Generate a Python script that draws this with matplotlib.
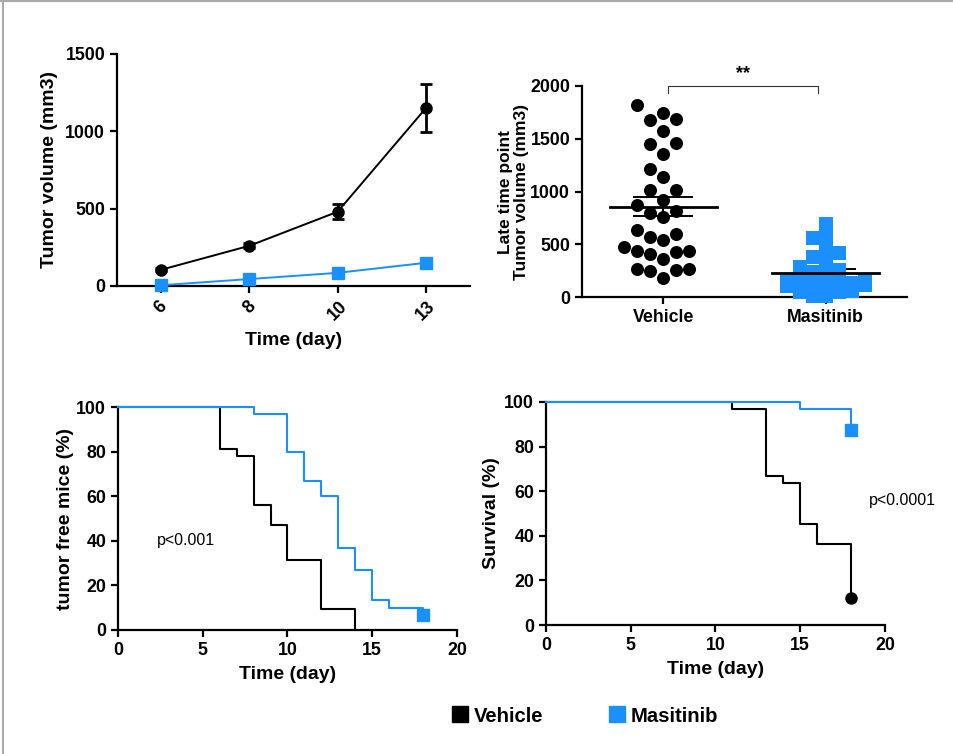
"""Tumor growth and survival panels: vehicle vs masitinib."""

import matplotlib
matplotlib.use("Agg")
import matplotlib.pyplot as plt
import numpy as np
from matplotlib.lines import Line2D

plt.rcParams["font.family"] = ["Liberation Sans", "DejaVu Sans"]
plt.rcParams["font.weight"] = "bold"
plt.rcParams["axes.labelweight"] = "bold"

BLACK = "#000000"
BLUE = "#1a90ff"

# --- data: tumor growth (mean +/- SEM) ---
days = ["6", "8", "10", "13"]
vehicle_mean = [105, 260, 480, 1150]
vehicle_sem = [10, 15, 48, 155]
masitinib_mean = [5, 45, 85, 150]
masitinib_sem = [3, 6, 10, 12]

# --- data: late time point tumor volume per mouse ---
groups = ["Vehicle", "Masitinib"]
vehicle_late = [1820, 1744, 1678, 1690, 1577, 1457, 1450, 1355, 1210, 1134,
                1014, 1014, 919, 872, 800, 818, 755, 597, 572, 632, 537, 477,
                433, 411, 427, 436, 357, 269, 256, 250, 265, 177]
masitinib_late = [690, 620, 555, 515, 445, 415, 375, 350, 285, 255, 240, 230,
                  150, 140, 170, 160, 150, 140, 130, 120, 115, 110, 100, 90,
                  80, 60, 45, 45, 10, 10]

# --- data: tumor free mice (Kaplan-Meier) ---
tf_vehicle_t = [0, 6, 7, 8, 9, 10, 12, 14]
tf_vehicle_pct = [100, 81.25, 78.1, 56.25, 46.9, 31.25, 9.4, 0]
tf_masitinib_t = [0, 8, 10, 11, 12, 13, 14, 15, 16, 18]
tf_masitinib_pct = [100, 96.7, 80, 66.7, 60, 36.7, 26.7, 13.3, 10, 6.7]

# --- data: survival (Kaplan-Meier) ---
sv_vehicle_t = [0, 11, 13, 14, 15, 16, 18]
sv_vehicle_pct = [100, 97.0, 66.7, 63.6, 45.5, 36.4, 12.1]
sv_masitinib_t = [0, 15, 18]
sv_masitinib_pct = [100, 96.9, 87.5]

W, H = 954, 754
fig = plt.figure(figsize=(W / 100, H / 100), dpi=100)

TICK_FS = 12.8
LABEL_FS = 14


def px_axes(x0, y0, x1, y1):
    # axes from pixel box (left, top, right, bottom)
    return fig.add_axes([x0 / W, 1 - y1 / H, (x1 - x0) / W, (y1 - y0) / H])


def style(ax):
    for s in ["top", "right"]:
        ax.spines[s].set_visible(False)
    for s in ["left", "bottom"]:
        ax.spines[s].set_linewidth(1.6)
    ax.tick_params(width=1.6, length=5, labelsize=TICK_FS, direction="out")


def swarm(values, min_gap, max_slot=3):
    # slot swarm: take the first slot (centre outwards) with room,
    # otherwise the slot with the most room
    order = np.argsort(values)
    cand = [0]
    for k in range(1, max_slot + 1):
        cand += [-k, k]
    slots = {k: [] for k in cand}
    out = np.zeros(len(values))
    for i in order:
        v = values[i]
        room = [min([abs(v - p) for p in slots[k]], default=np.inf) for k in cand]
        pick = next((k for k, r in zip(cand, room) if r >= min_gap),
                    cand[int(np.argmax(room))])
        slots[pick].append(v)
        out[i] = pick
    return out


# --- 1. Tumor growth ---
ax1 = px_axes(117, 54, 470, 286)
x = np.arange(len(days))
ax1.errorbar(x, vehicle_mean, yerr=vehicle_sem, color=BLACK, lw=1.4,
             marker="o", ms=8, elinewidth=2, capsize=4, capthick=2,
             clip_on=False, zorder=3)
ax1.errorbar(x, masitinib_mean, yerr=masitinib_sem, color=BLUE, lw=1.4,
             marker="s", ms=8, elinewidth=2, capsize=4, capthick=2,
             clip_on=False, zorder=4)
ax1.set_xlim(-0.5, 3.5)
ax1.set_ylim(0, 1500)
ax1.set_yticks([0, 500, 1000, 1500])
ax1.set_xticks(x)
ax1.set_xticklabels(days, rotation=45, ha="center")
style(ax1)
ax1.set_ylabel("Tumor volume (mm3)", fontsize=LABEL_FS, labelpad=5)
ax1.set_xlabel("Time (day)", fontsize=LABEL_FS, labelpad=6)

# --- 2. Late time point scatter ---
ax2 = px_axes(582, 86, 907, 297)
ax2.set_xlim(-0.5, 1.5)
ax2.set_ylim(0, 2000)
step = 0.08
for gi, (vals, mk, col, gap, sz) in enumerate([
        (vehicle_late, "o", BLACK, 150, 88),
        (masitinib_late, "s", BLUE, 70, 100)]):
    vals = np.asarray(vals, dtype=float)
    offs = swarm(vals, gap)
    mean = vals.mean()
    sem = vals.std(ddof=1) / np.sqrt(len(vals))
    ax2.plot([gi - 0.18, gi + 0.18], [mean + sem] * 2, color=BLACK, lw=1.4, zorder=2)
    ax2.plot([gi - 0.18, gi + 0.18], [mean - sem] * 2, color=BLACK, lw=1.4, zorder=2)
    ax2.plot([gi, gi], [mean - sem, mean + sem], color=BLACK, lw=1.4, zorder=2)
    ax2.scatter(gi + offs * step, vals, marker=mk, s=sz, color=col,
                linewidths=0, clip_on=False, zorder=3)
    ax2.plot([gi - 0.33, gi + 0.33], [mean, mean], color=BLACK, lw=2, zorder=4)
ax2.set_xticks([0, 1])
ax2.set_xticklabels(groups)
ax2.set_yticks([0, 500, 1000, 1500, 2000])
style(ax2)
ax2.set_ylabel("Late time point\nTumor volume (mm3)", fontsize=12.5,
               linespacing=1.1, labelpad=1)
ax2.plot([0.03, 0.03, 0.95, 0.95], [1935, 2000, 2000, 1935], color="#333333",
         lw=0.8, clip_on=False)
ax2.text(0.49, 2040, "**", ha="center", va="bottom", fontsize=13)

# --- 3. Tumor free mice ---
ax3 = px_axes(118, 407, 457, 630)
ax3.step(tf_vehicle_t, tf_vehicle_pct, where="post", color=BLACK, lw=1.5,
         clip_on=False, zorder=3)
ax3.step(tf_masitinib_t, tf_masitinib_pct, where="post", color=BLUE, lw=1.5,
         clip_on=False, zorder=4)
ax3.plot(tf_masitinib_t[-1], tf_masitinib_pct[-1], marker="s", ms=8,
         color=BLUE, clip_on=False, zorder=5)
ax3.set_xlim(0, 20)
ax3.set_ylim(0, 100)
ax3.set_xticks([0, 5, 10, 15, 20])
ax3.set_yticks([0, 20, 40, 60, 80, 100])
style(ax3)
ax3.set_ylabel("tumor free mice (%)", fontsize=LABEL_FS, labelpad=2)
ax3.set_xlabel("Time (day)", fontsize=LABEL_FS, labelpad=5)
ax3.text(2.3, 40, "p<0.001", fontsize=11.5, fontweight="normal",
         ha="left", va="center")

# --- 4. Survival ---
ax4 = px_axes(546, 402, 885, 625)
ax4.step(sv_vehicle_t, sv_vehicle_pct, where="post", color=BLACK, lw=1.5,
         clip_on=False, zorder=3)
ax4.step(sv_masitinib_t, sv_masitinib_pct, where="post", color=BLUE, lw=1.5,
         clip_on=False, zorder=4)
ax4.plot(sv_vehicle_t[-1], sv_vehicle_pct[-1], marker="o", ms=8,
         color=BLACK, clip_on=False, zorder=5)
ax4.plot(sv_masitinib_t[-1], sv_masitinib_pct[-1], marker="s", ms=8,
         color=BLUE, clip_on=False, zorder=5)
ax4.set_xlim(0, 20)
ax4.set_ylim(0, 100)
ax4.set_xticks([0, 5, 10, 15, 20])
ax4.set_yticks([0, 20, 40, 60, 80, 100])
style(ax4)
ax4.set_ylabel("Survival (%)", fontsize=LABEL_FS, labelpad=3)
ax4.set_xlabel("Time (day)", fontsize=LABEL_FS, labelpad=5)
ax4.text(19.05, 56, "p<0.0001", fontsize=11.5, fontweight="normal",
         ha="left", va="center")

# --- legend ---
handles = [
    Line2D([], [], ls="none", marker="s", ms=11.5, color=BLACK, label="Vehicle"),
    Line2D([], [], ls="none", marker="s", ms=11.5, color=BLUE, label="Masitinib"),
]
fig.legend(handles=handles, loc="center", bbox_to_anchor=(585 / W, 1 - 716 / H),
           ncol=2, frameon=False, prop={"size": 14.6, "weight": "bold"},
           handlelength=0.8, handletextpad=0.3, columnspacing=3.2)

# thin gray frame on top and left edges
fig.add_artist(Line2D([0, 1], [1 - 1 / H, 1 - 1 / H], color="#aaaaaa", lw=1.5))
fig.add_artist(Line2D([3 / W, 3 / W], [0, 1], color="#aaaaaa", lw=1.5))

fig.savefig("out.png", dpi=100)
